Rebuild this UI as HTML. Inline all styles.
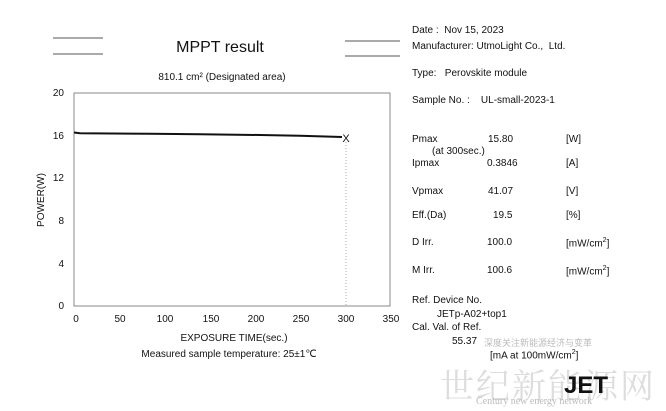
<!DOCTYPE html>
<html><head><meta charset="utf-8"><style>
body{margin:0;width:666px;height:411px;background:#fff;overflow:hidden;position:relative;font-family:"Liberation Sans",Arial,sans-serif;color:#111}
.t{position:absolute;white-space:nowrap;font-size:10px}
</style></head><body>
<svg width="666" height="411" style="position:absolute;left:0;top:0" font-family="Liberation Sans, Arial, sans-serif" fill="#111">
<line x1="53" y1="38" x2="103" y2="38" stroke="#555"/>
<line x1="53" y1="54" x2="103" y2="54" stroke="#555"/>
<line x1="345" y1="41" x2="400" y2="41" stroke="#555"/>
<line x1="345" y1="56" x2="400" y2="56" stroke="#555"/>
<text x="220" y="52" font-size="16" text-anchor="middle">MPPT result</text>
<text x="222" y="80" font-size="10" text-anchor="middle">810.1 cm² (Designated area)</text>
<rect x="74" y="93" width="316" height="213" fill="none" stroke="#888"/>
<g font-size="10" text-anchor="end">
<text x="64" y="96">20</text><text x="64" y="139">16</text><text x="64" y="181">12</text>
<text x="64" y="224">8</text><text x="64" y="267">4</text><text x="64" y="309">0</text>
</g>
<g font-size="10" text-anchor="middle">
<text x="76" y="322">0</text><text x="120" y="322">50</text><text x="165" y="322">100</text>
<text x="211" y="322">150</text><text x="256" y="322">200</text><text x="301" y="322">250</text>
<text x="346" y="322">300</text><text x="391" y="322">350</text>
</g>
<text x="44" y="200" font-size="10" text-anchor="middle" transform="rotate(-90 44 200)">POWER(W)</text>
<text x="234" y="341" font-size="10" text-anchor="middle">EXPOSURE TIME(sec.)</text>
<text x="229" y="357" font-size="10" text-anchor="middle">Measured sample temperature: 25±1℃</text>
<polyline points="74,132.5 80,133.3 150,133.8 200,134.3 260,135 300,135.8 342,137" fill="none" stroke="#111" stroke-width="2"/>
<text x="346" y="142" font-size="11" text-anchor="middle">X</text>
<line x1="346" y1="142" x2="346" y2="306" stroke="#aaa" stroke-dasharray="1,2"/>
</svg>
<div class="t" style="left:412px;top:25px">Date :&nbsp; Nov 15, 2023</div>
<div class="t" style="left:412px;top:41px">Manufacturer: UtmoLight Co., &nbsp;Ltd.</div>
<div class="t" style="left:412px;top:68px">Type: &nbsp; Perovskite module</div>
<div class="t" style="left:412px;top:95px">Sample No. : &nbsp;&nbsp; UL-small-2023-1</div>
<div class="t" style="left:412px;top:134px">Pmax</div><div class="t" style="left:488px;top:134px">15.80</div><div class="t" style="left:566px;top:134px">[W]</div>
<div class="t" style="left:432px;top:146px">(at 300sec.)</div>
<div class="t" style="left:412px;top:158px">Ipmax</div><div class="t" style="left:487px;top:158px">0.3846</div><div class="t" style="left:566px;top:158px">[A]</div>
<div class="t" style="left:412px;top:186px">Vpmax</div><div class="t" style="left:488px;top:186px">41.07</div><div class="t" style="left:566px;top:186px">[V]</div>
<div class="t" style="left:412px;top:210px">Eff.(Da)</div><div class="t" style="left:493px;top:210px">19.5</div><div class="t" style="left:566px;top:210px">[%]</div>
<div class="t" style="left:412px;top:237px">D Irr.</div><div class="t" style="left:487px;top:237px">100.0</div><div class="t" style="left:566px;top:237px">[mW/cm<sup style="font-size:7px">2</sup>]</div>
<div class="t" style="left:412px;top:265px">M Irr.</div><div class="t" style="left:487px;top:265px">100.6</div><div class="t" style="left:566px;top:265px">[mW/cm<sup style="font-size:7px">2</sup>]</div>
<div class="t" style="left:412px;top:295px">Ref. Device No.</div>
<div class="t" style="left:437px;top:309px">JETp-A02+top1</div>
<div class="t" style="left:412px;top:322px">Cal. Val. of Ref.</div>
<div class="t" style="left:452px;top:336px">55.37</div>
<div class="t" style="left:484px;top:336px;color:#bbb;font-family:'Noto Sans CJK SC',sans-serif;font-size:9px">深度关注新能源经济与变革</div>
<div class="t" style="left:490px;top:349px">[mA at 100mW/cm<sup style="font-size:7px">2</sup>]</div>
<div class="t" style="left:440px;top:359px;font-size:34px;color:#ddd;font-family:'Noto Serif CJK SC',serif;letter-spacing:2px">世纪新能源网</div>
<div class="t" style="left:564px;top:372px;font-size:24px;font-weight:bold;color:#111">JET</div>
<div class="t" style="left:476px;top:396px;font-size:10px;color:#bbb;font-family:'Liberation Serif',serif">Century new energy network</div>
</body></html>
